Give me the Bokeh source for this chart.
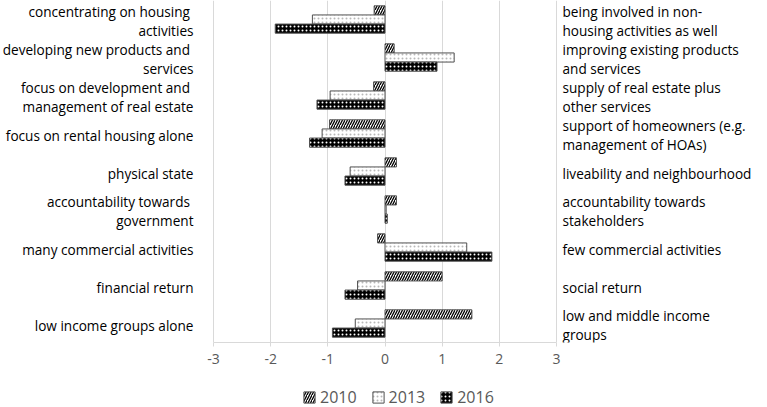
from bokeh.plotting import figure
from bokeh.models import (Range1d, FixedTicker, Legend, LegendItem, ColumnDataSource)
from bokeh.layouts import column
from bokeh.core.properties import value
from bokeh.embed import file_html
from bokeh.resources import INLINE

left_labels = [
    "concentrating on housing \nactivities",
    "developing new products and \nservices",
    "focus on development and \nmanagement of real estate",
    "focus on rental housing alone",
    "physical state",
    "accountability towards \ngovernment",
    "many commercial activities",
    "financial return",
    "low income groups alone",
]
right_labels = [
    "being involved in non-\nhousing activities as well",
    "improving existing products\nand services",
    "supply of real estate plus\nother services",
    "support of homeowners (e.g.\nmanagement of HOAs)",
    "liveability and neighbourhood",
    "accountability towards\nstakeholders",
    "few commercial activities",
    "social return",
    "low and middle income\ngroups",
]
series_names = ["2010", "2013", "2016"]
values_2010 = [-0.19, 0.16, -0.20, -0.97, 0.20, 0.20, -0.13, 1.00, 1.52]
values_2013 = [-1.27, 1.21, -0.96, -1.10, -0.61, 0.02, 1.43, -0.48, -0.52]
values_2016 = [-1.92, 0.91, -1.19, -1.32, -0.70, 0.04, 1.87, -0.70, -0.92]
x_ticks = [-3, -2, -1, 0, 1, 2, 3]
x_tick_labels = ["-3", "-2", "-1", "0", "1", "2", "3"]

FONT = "Open Sans"
TXT = "#595959"
LBL_SIZE = "13.6px"

n = len(left_labels)
idx = list(range(n))

W = 767
FRAME_H = 342
PLOT_L, PLOT_R = 213, 556          # pixel extent of the -3..3 value axis
ppu = (PLOT_R - PLOT_L) / (x_ticks[-1] - x_ticks[0])
x_lo = x_ticks[0] - PLOT_L / ppu
x_hi = x_ticks[-1] + (W - PLOT_R) / ppu
unit_px = FRAME_H / n
line_gap = 18.7 / unit_px           # line spacing of two-line labels, in category units
text_shift = 1.5 / unit_px          # small downward nudge of label text

p = figure(frame_width=W, frame_height=FRAME_H, output_backend="svg", toolbar_location=None,
           x_range=Range1d(x_lo, x_hi), y_range=Range1d(n - 0.5, -0.5),
           min_border_left=0, min_border_right=0, min_border_top=0,
           min_border_bottom=34, y_axis_location=None)
p.outline_line_color = None
p.background_fill_color = "white"

bh = 0.24
styles = [
    dict(fill_color="white", hatch_pattern="/", hatch_color="black",
         hatch_scale=5, hatch_weight=1.3),
    dict(fill_color="white", hatch_pattern=".", hatch_color="#b8b8b8",
         hatch_scale=4, hatch_weight=0.7),
    dict(fill_color="black", hatch_pattern=".", hatch_color="white",
         hatch_scale=4, hatch_weight=3.0),
]
offsets = [-bh, 0.0, bh]
for vals, off, st in zip([values_2010, values_2013, values_2016], offsets, styles):
    src = ColumnDataSource(dict(y=[i + off for i in idx], right=vals))
    p.hbar(y="y", right="right", left=0, height=bh, source=src,
           line_color="#505050", line_width=1, **st)

# grid
p.xgrid.ticker = FixedTicker(ticks=x_ticks)
p.xgrid.grid_line_color = "#d9d9d9"
p.ygrid.grid_line_color = None

xa = p.xaxis[0]
xa.ticker = FixedTicker(ticks=x_ticks)
xa.bounds = (x_ticks[0], x_ticks[-1])
xa.major_label_overrides = {t: s for t, s in zip(x_ticks, x_tick_labels)}
xa.axis_line_color = "#d9d9d9"
xa.major_tick_line_color = "#d9d9d9"
xa.major_tick_out = 4
xa.major_tick_in = 0
xa.minor_tick_line_color = None
xa.major_label_text_font = FONT
xa.major_label_text_font_size = "14px"
xa.major_label_text_color = TXT
xa.major_label_standoff = 7

# category labels on both sides
def label_source(texts, xpos):
    xs, ys, ts = [], [], []
    for i, t in enumerate(texts):
        lines = t.split("\n")
        k = len(lines)
        for j, line in enumerate(lines):
            xs.append(xpos)
            ys.append(i + (j - (k - 1) / 2) * line_gap + text_shift)
            ts.append(line)
    return ColumnDataSource(dict(x=xs, y=ys, text=ts))

p.text(x="x", y="y", text="text", source=label_source(left_labels, x_ticks[0]),
       x_offset=-20, text_align="right", text_baseline="middle",
       text_font=value(FONT), text_font_size=LBL_SIZE, text_color="black")
p.text(x="x", y="y", text="text", source=label_source(right_labels, x_ticks[-1]),
       x_offset=6, text_align="left", text_baseline="middle",
       text_font=value(FONT), text_font_size=LBL_SIZE, text_color="black")

# legend strip (swatch renderers sit outside the strip's visible range)
lg = figure(width=W, height=32, output_backend="svg", toolbar_location=None,
            x_range=Range1d(0, 1), y_range=Range1d(1, 2),
            min_border_left=0, min_border_right=0, min_border_top=0, min_border_bottom=0)
lg.outline_line_color = None
lg.axis.visible = False
lg.grid.visible = False
renderers = []
for st in styles:
    src = ColumnDataSource(dict(y=[0], right=[0]))
    renderers.append(lg.hbar(y="y", right="right", left=0, height=bh, source=src,
                             line_color="#505050", line_width=1, **st))
legend = Legend(items=[LegendItem(label=s, renderers=[r]) for s, r in zip(series_names, renderers)],
                orientation="horizontal", location=(302, 0),
                label_text_font=FONT, label_text_font_size="16px",
                label_text_color=TXT, glyph_width=14, glyph_height=14,
                spacing=14, label_standoff=4, padding=0, margin=0,
                border_line_color=None, background_fill_alpha=0)
lg.add_layout(legend, "center")

page = column(p, lg, spacing=0)
open("out.html", "w").write(file_html(page, INLINE))
